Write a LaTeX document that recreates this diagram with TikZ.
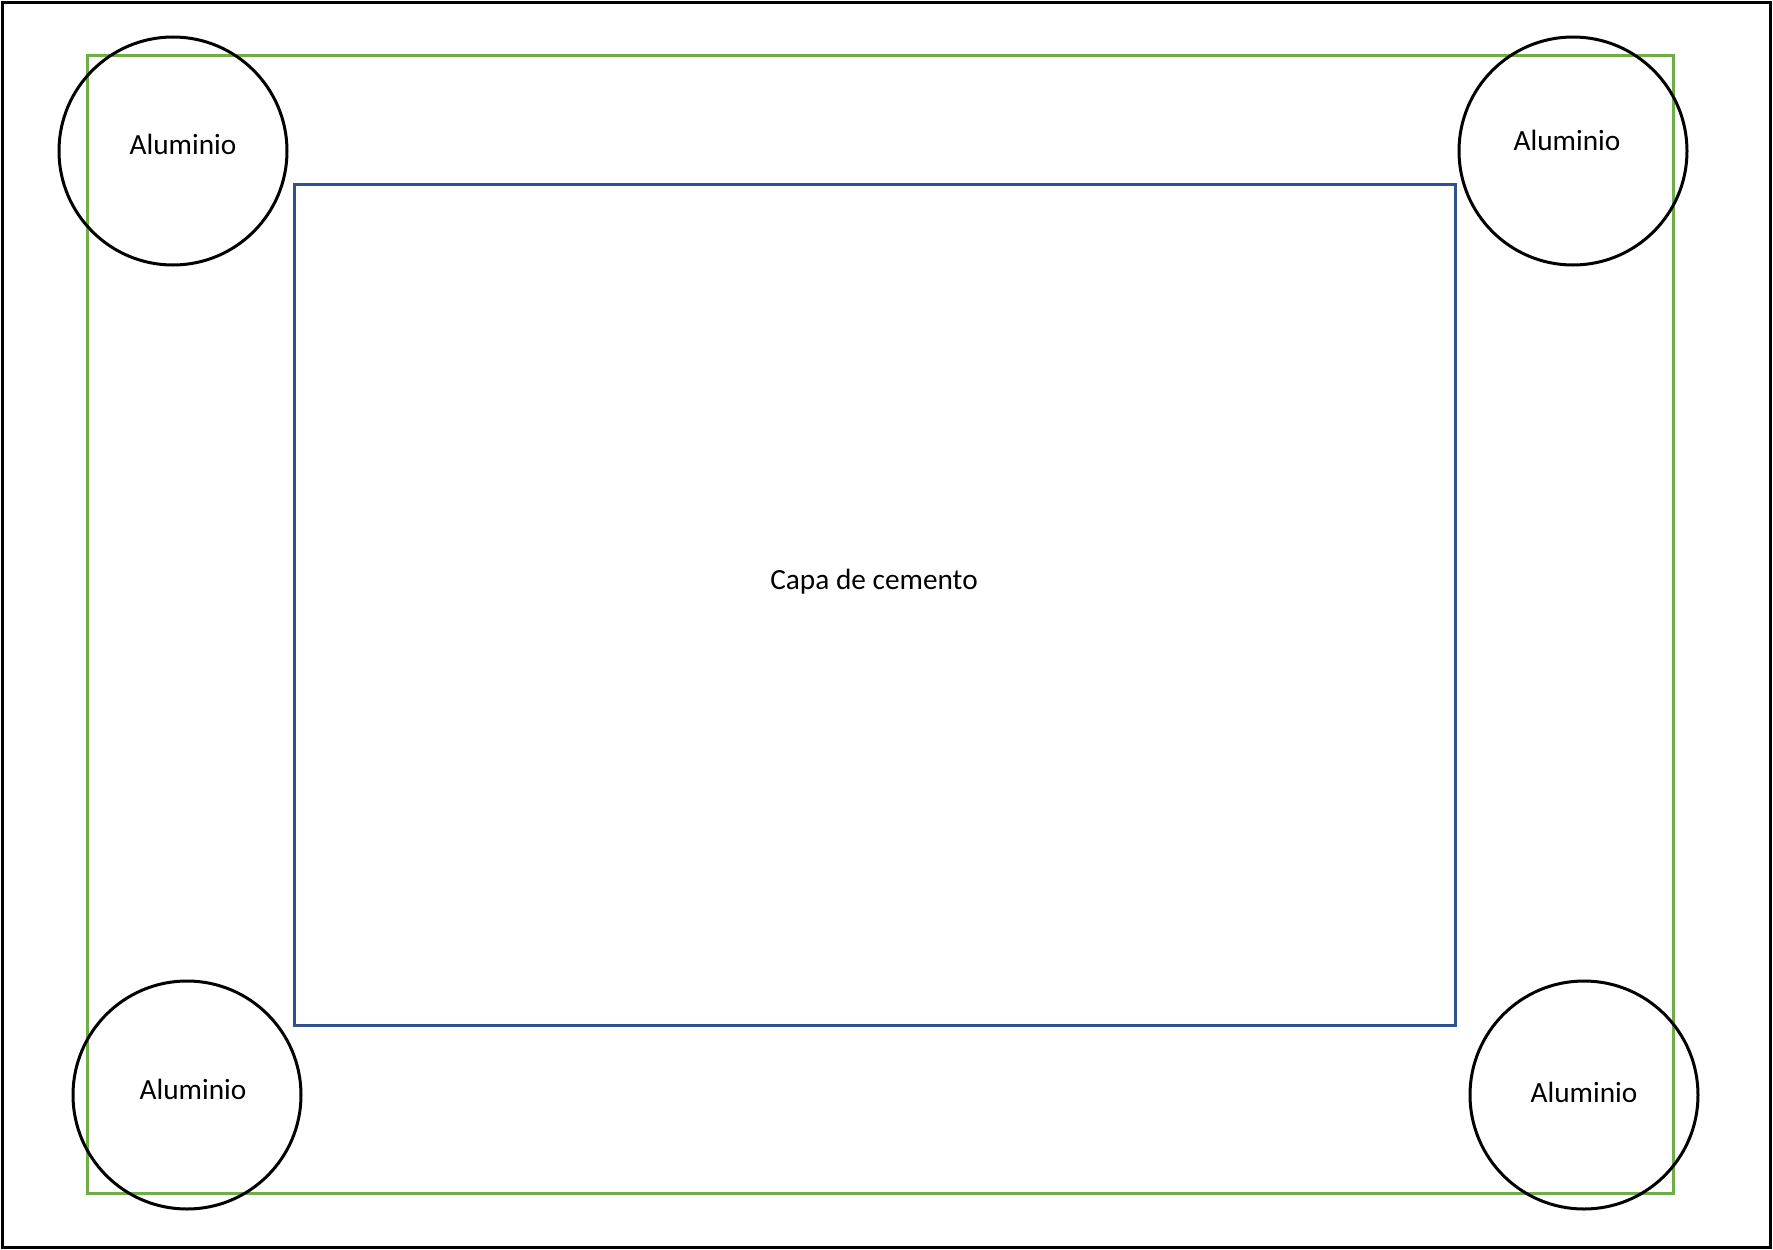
\documentclass[tikz,border=0pt]{standalone}
\usepackage{fontspec}
\setmainfont{Carlito}
\definecolor{grn}{HTML}{70AD47}
\definecolor{blu}{HTML}{2F528F}
\begin{document}
\begin{tikzpicture}[x=1pt,y=-1pt,
  disc/.style={circle,draw=black,line width=3pt,minimum size=228pt,inner sep=0pt},
  lbl/.style={anchor=base,inner sep=0pt,font=\fontsize{29.3}{35}\selectfont}]
\useasboundingbox (0,0) rectangle (1773,1250);
\draw[line width=3pt,black] (2,2) rectangle (1770,1247);
\node[draw=grn,line width=3pt,minimum width=1586pt,minimum height=1138pt,inner sep=0pt] (green) at (880,624) {};
\node[draw=blu,line width=3pt,minimum width=1161pt,minimum height=841pt,inner sep=0pt] (cement) at (874.5,604.5) {};
\node[lbl] (ctext) at (874,589) {Capa de cemento};
\node[disc] (c1) at (173,151) {};
\node[disc] (c2) at (1573,151) {};
\node[disc] (c3) at (187,1095) {};
\node[disc] (c4) at (1584,1095) {};
\node[lbl] (t1) at (183,154) {Aluminio};
\node[lbl] (t2) at (1567,150) {Aluminio};
\node[lbl] (t3) at (193,1099) {Aluminio};
\node[lbl] (t4) at (1584,1102) {Aluminio};
\end{tikzpicture}
\end{document}
